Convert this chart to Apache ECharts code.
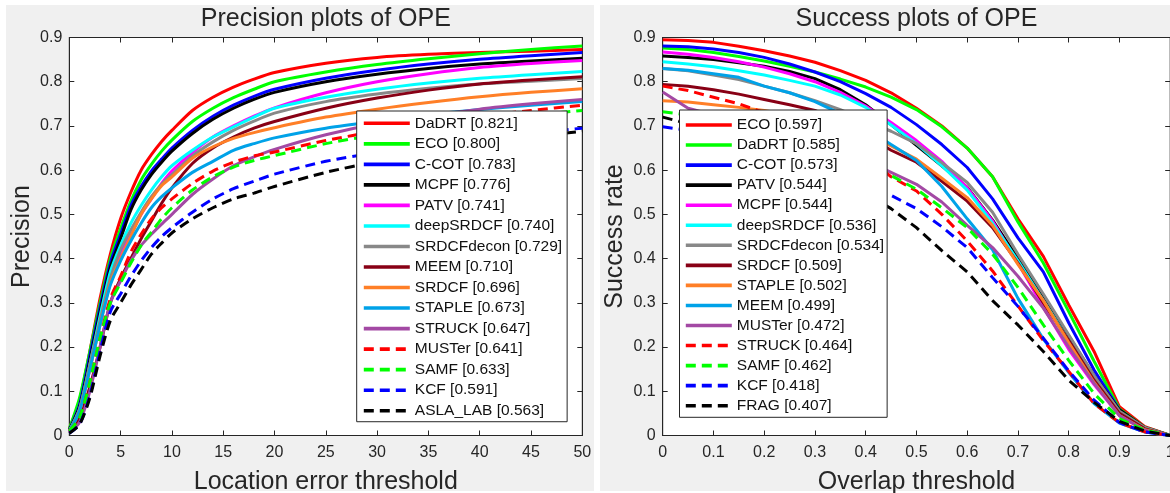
<!DOCTYPE html>
<html>
<head>
<meta charset="utf-8">
<title>Precision / Success plots of OPE</title>
<script src="https://cdn.jsdelivr.net/npm/echarts@6/dist/echarts.min.js"></script>
<style>
  html, body { margin: 0; padding: 0; background: #fff; }
  .panel { position: absolute; background: #f0f0f0; }
  #main { position: absolute; left: 0; top: 0; width: 1170px; height: 493px; }
</style>
</head>
<body>
<div class="panel" style="left:6px;top:5px;width:588px;height:486px"></div>
<div class="panel" style="left:600px;top:5px;width:570px;height:486px"></div>
<div id="main"></div>
<script>
// ---- precision plot (location error threshold 0..50) ----
const precX = [0, 1, 2, 3, 4, 5, 6, 7, 8, 9, 10, 12, 14, 16, 18, 20, 25, 30, 35, 40, 45, 50];
const precNames = ['DaDRT [0.821]', 'ECO [0.800]', 'C-COT [0.783]', 'MCPF [0.776]', 'PATV [0.741]',
  'deepSRDCF [0.740]', 'SRDCFdecon [0.729]', 'MEEM [0.710]', 'SRDCF [0.696]', 'STAPLE [0.673]',
  'STRUCK [0.647]', 'MUSTer [0.641]', 'SAMF [0.633]', 'KCF [0.591]', 'ASLA_LAB [0.563]'];
const pDaDRT = [0.015, 0.08, 0.19, 0.31, 0.41, 0.49, 0.55, 0.60, 0.635, 0.665, 0.69, 0.735, 0.765, 0.788, 0.806, 0.821, 0.842, 0.855, 0.862, 0.866, 0.869, 0.873];
const pECO = [0.015, 0.085, 0.19, 0.30, 0.40, 0.468, 0.53, 0.578, 0.613, 0.643, 0.668, 0.71, 0.74, 0.764, 0.783, 0.800, 0.822, 0.839, 0.852, 0.863, 0.873, 0.881];
const pCCOT = [0.012, 0.07, 0.18, 0.29, 0.39, 0.455, 0.52, 0.563, 0.598, 0.625, 0.65, 0.69, 0.722, 0.747, 0.767, 0.783, 0.808, 0.826, 0.84, 0.851, 0.859, 0.866];
const pMCPF = [0.012, 0.065, 0.17, 0.28, 0.38, 0.445, 0.51, 0.555, 0.59, 0.618, 0.643, 0.683, 0.715, 0.74, 0.76, 0.776, 0.80, 0.817, 0.83, 0.84, 0.847, 0.853];
const pPATV = [0.01, 0.055, 0.15, 0.26, 0.355, 0.41, 0.455, 0.50, 0.535, 0.57, 0.598, 0.64, 0.675, 0.70, 0.722, 0.741, 0.775, 0.80, 0.818, 0.832, 0.841, 0.848];
const pDeepSRDCF = [0.01, 0.06, 0.16, 0.27, 0.37, 0.43, 0.48, 0.52, 0.555, 0.585, 0.61, 0.645, 0.675, 0.698, 0.72, 0.74, 0.765, 0.783, 0.797, 0.808, 0.816, 0.823];
const pSRDCFdecon = [0.01, 0.06, 0.16, 0.26, 0.355, 0.42, 0.465, 0.505, 0.54, 0.568, 0.59, 0.632, 0.664, 0.69, 0.711, 0.729, 0.755, 0.772, 0.785, 0.795, 0.801, 0.807];
const pMEEM = [0.008, 0.04, 0.11, 0.20, 0.30, 0.355, 0.40, 0.445, 0.485, 0.525, 0.56, 0.615, 0.65, 0.675, 0.695, 0.71, 0.74, 0.763, 0.781, 0.795, 0.804, 0.811];
const pSRDCF = [0.01, 0.055, 0.15, 0.25, 0.345, 0.40, 0.45, 0.50, 0.535, 0.565, 0.585, 0.627, 0.653, 0.672, 0.685, 0.696, 0.72, 0.738, 0.753, 0.766, 0.776, 0.784];
const pSTAPLE = [0.01, 0.055, 0.15, 0.25, 0.34, 0.395, 0.44, 0.48, 0.515, 0.54, 0.56, 0.595, 0.62, 0.645, 0.66, 0.673, 0.695, 0.71, 0.725, 0.737, 0.747, 0.755];
const pSTRUCK = [0.008, 0.03, 0.10, 0.20, 0.30, 0.35, 0.395, 0.43, 0.455, 0.478, 0.50, 0.545, 0.58, 0.61, 0.63, 0.647, 0.68, 0.705, 0.722, 0.738, 0.75, 0.76];
const pMUSTer = [0.01, 0.04, 0.12, 0.22, 0.31, 0.36, 0.415, 0.455, 0.49, 0.515, 0.535, 0.57, 0.598, 0.618, 0.632, 0.641, 0.667, 0.688, 0.706, 0.722, 0.735, 0.747];
const pSAMF = [0.01, 0.04, 0.12, 0.22, 0.30, 0.345, 0.39, 0.43, 0.46, 0.49, 0.515, 0.555, 0.585, 0.607, 0.622, 0.633, 0.66, 0.68, 0.697, 0.712, 0.724, 0.735];
const pKCF = [0.005, 0.025, 0.09, 0.19, 0.28, 0.32, 0.36, 0.395, 0.425, 0.45, 0.47, 0.505, 0.535, 0.558, 0.575, 0.591, 0.62, 0.64, 0.658, 0.672, 0.684, 0.695];
const pASLA = [0.005, 0.025, 0.085, 0.18, 0.26, 0.30, 0.34, 0.375, 0.41, 0.435, 0.458, 0.49, 0.515, 0.535, 0.548, 0.563, 0.595, 0.62, 0.643, 0.66, 0.675, 0.688];
const precValues = [pDaDRT, pECO, pCCOT, pMCPF, pPATV, pDeepSRDCF, pSRDCFdecon, pMEEM, pSRDCF, pSTAPLE, pSTRUCK, pMUSTer, pSAMF, pKCF, pASLA];

// ---- success plot (overlap threshold 0..1) ----
const succX = [0, 0.05, 0.1, 0.15, 0.2, 0.25, 0.3, 0.35, 0.4, 0.45, 0.5, 0.55, 0.6, 0.65, 0.7, 0.75, 0.8, 0.85, 0.9, 0.95, 1];
const succNames = ['ECO [0.597]', 'DaDRT [0.585]', 'C-COT [0.573]', 'PATV [0.544]', 'MCPF [0.544]',
  'deepSRDCF [0.536]', 'SRDCFdecon [0.534]', 'SRDCF [0.509]', 'STAPLE [0.502]', 'MEEM [0.499]',
  'MUSTer [0.472]', 'STRUCK [0.464]', 'SAMF [0.462]', 'KCF [0.418]', 'FRAG [0.407]'];
const sECO = [0.895, 0.893, 0.889, 0.88, 0.87, 0.858, 0.844, 0.825, 0.803, 0.775, 0.74, 0.70, 0.65, 0.585, 0.49, 0.405, 0.295, 0.19, 0.065, 0.02, 0];
const sDaDRT = [0.876, 0.873, 0.866, 0.857, 0.847, 0.835, 0.822, 0.806, 0.788, 0.765, 0.737, 0.698, 0.65, 0.585, 0.483, 0.39, 0.28, 0.168, 0.06, 0.018, 0];
const sCCOT = [0.881, 0.879, 0.874, 0.866, 0.855, 0.84, 0.822, 0.80, 0.773, 0.742, 0.703, 0.658, 0.606, 0.535, 0.447, 0.37, 0.255, 0.148, 0.058, 0.017, 0];
const sPATV = [0.858, 0.855, 0.85, 0.843, 0.835, 0.823, 0.807, 0.782, 0.748, 0.703, 0.656, 0.61, 0.561, 0.487, 0.40, 0.31, 0.225, 0.135, 0.058, 0.018, 0];
const sMCPF = [0.867, 0.862, 0.855, 0.845, 0.833, 0.818, 0.80, 0.776, 0.745, 0.708, 0.667, 0.62, 0.56, 0.485, 0.39, 0.29, 0.195, 0.115, 0.045, 0.013, 0];
const sDeepSRDCF = [0.845, 0.84, 0.834, 0.825, 0.815, 0.803, 0.79, 0.77, 0.742, 0.702, 0.66, 0.61, 0.555, 0.48, 0.395, 0.305, 0.215, 0.125, 0.05, 0.015, 0];
const sSRDCFdecon = [0.83, 0.825, 0.815, 0.805, 0.79, 0.775, 0.757, 0.737, 0.712, 0.688, 0.66, 0.617, 0.572, 0.505, 0.41, 0.32, 0.228, 0.135, 0.055, 0.018, 0];
const sSRDCF = [0.794, 0.79, 0.782, 0.772, 0.76, 0.748, 0.735, 0.71, 0.68, 0.645, 0.618, 0.575, 0.53, 0.47, 0.39, 0.30, 0.215, 0.125, 0.05, 0.015, 0];
const sSTAPLE = [0.757, 0.754, 0.748, 0.742, 0.735, 0.725, 0.715, 0.70, 0.683, 0.655, 0.625, 0.582, 0.538, 0.475, 0.387, 0.305, 0.21, 0.12, 0.045, 0.013, 0];
const sMEEM = [0.83, 0.826, 0.818, 0.81, 0.79, 0.775, 0.755, 0.728, 0.695, 0.658, 0.622, 0.563, 0.49, 0.42, 0.31, 0.218, 0.143, 0.072, 0.028, 0.008, 0];
const sMUSTer = [0.777, 0.74, 0.725, 0.71, 0.695, 0.68, 0.665, 0.645, 0.622, 0.595, 0.568, 0.528, 0.475, 0.425, 0.36, 0.288, 0.20, 0.118, 0.045, 0.012, 0];
const sSTRUCK = [0.79, 0.78, 0.765, 0.75, 0.73, 0.71, 0.69, 0.665, 0.635, 0.585, 0.553, 0.50, 0.44, 0.372, 0.293, 0.215, 0.145, 0.072, 0.029, 0.008, 0];
const sSAMF = [0.732, 0.725, 0.715, 0.705, 0.692, 0.678, 0.662, 0.643, 0.62, 0.588, 0.557, 0.515, 0.47, 0.41, 0.335, 0.25, 0.17, 0.095, 0.038, 0.012, 0];
const sKCF = [0.698, 0.69, 0.672, 0.657, 0.64, 0.622, 0.603, 0.583, 0.563, 0.543, 0.513, 0.472, 0.425, 0.357, 0.292, 0.22, 0.146, 0.08, 0.029, 0.008, 0];
const sFRAG = [0.72, 0.705, 0.688, 0.67, 0.65, 0.628, 0.604, 0.578, 0.548, 0.513, 0.47, 0.418, 0.37, 0.305, 0.25, 0.19, 0.125, 0.075, 0.032, 0.01, 0];
const succValues = [sECO, sDaDRT, sCCOT, sPATV, sMCPF, sDeepSRDCF, sSRDCFdecon, sSRDCF, sSTAPLE, sMEEM, sMUSTer, sSTRUCK, sSAMF, sKCF, sFRAG];

// line styles by rank (same order in both plots)
const rankColors = ['#ff0000', '#00ff00', '#0000ff', '#000000', '#ff00ff', '#00ffff', '#888888',
  '#880015', '#ff7f27', '#00a2e8', '#a349a4', '#ff0000', '#00ff00', '#0000ff', '#000000'];
const rankDashed = [false, false, false, false, false, false, false, false, false, false, false, true, true, true, true];

const FONT = '"Liberation Sans", Arial, Helvetica, sans-serif';
const AXIS_COLOR = '#262626';

function buildSeries(names, values, xs, axisIdx, smooth) {
  return names.map((name, i) => ({
    name: name,
    type: 'line',
    xAxisIndex: axisIdx,
    yAxisIndex: axisIdx,
    data: xs.map((x, j) => [x, values[i][j]]),
    symbol: 'none',
    smooth: smooth,
    silent: true,
    animation: false,
    lineStyle: {
      color: rankColors[i],
      width: 3,
      type: rankDashed[i] ? [10, 6] : 'solid'
    },
    itemStyle: { color: rankColors[i] }
  }));
}

function fmtTick(v) {
  if (v === 0) return '0';
  if (Math.abs(v - 1) < 1e-9) return '1';
  return v.toFixed(1);
}

function mainX(grid, max, interval, fmt) {
  return {
    gridIndex: grid, type: 'value', min: 0, max: max, interval: interval, position: 'bottom',
    axisLine: { show: true, onZero: false, lineStyle: { color: AXIS_COLOR, width: 1 } },
    axisTick: { show: true, inside: true, length: 5, lineStyle: { color: AXIS_COLOR } },
    axisLabel: { fontSize: 16, color: AXIS_COLOR, fontFamily: FONT, margin: 9, formatter: fmt },
    splitLine: { show: false }
  };
}
function topX(grid, max, interval) {
  return {
    gridIndex: grid, type: 'value', min: 0, max: max, interval: interval, position: 'top',
    axisLine: { show: true, onZero: false, lineStyle: { color: AXIS_COLOR, width: 1 } },
    axisTick: { show: true, inside: true, length: 5, lineStyle: { color: AXIS_COLOR } },
    axisLabel: { show: false }, splitLine: { show: false }
  };
}
function mainY(grid) {
  return {
    gridIndex: grid, type: 'value', min: 0, max: 0.9, interval: 0.1, position: 'left',
    axisLine: { show: true, onZero: false, lineStyle: { color: AXIS_COLOR, width: 1 } },
    axisTick: { show: true, inside: true, length: 5, lineStyle: { color: AXIS_COLOR } },
    axisLabel: { fontSize: 16, color: AXIS_COLOR, fontFamily: FONT, margin: 7, formatter: fmtTick },
    splitLine: { show: false }
  };
}
function rightY(grid) {
  return {
    gridIndex: grid, type: 'value', min: 0, max: 0.9, interval: 0.1, position: 'right',
    axisLine: { show: true, onZero: false, lineStyle: { color: AXIS_COLOR, width: 1 } },
    axisTick: { show: true, inside: true, length: 5, lineStyle: { color: AXIS_COLOR } },
    axisLabel: { show: false }, splitLine: { show: false }
  };
}

function legendOpt(names, left, top, gap, pad) {
  return {
    data: names,
    orient: 'vertical',
    left: left,
    top: top,
    padding: pad,
    itemWidth: 46,
    itemHeight: 14,
    itemGap: gap,
    selectedMode: false,
    backgroundColor: '#fff',
    borderColor: AXIS_COLOR,
    borderWidth: 1,
    borderRadius: 0,
    itemStyle: { opacity: 0 },
    lineStyle: { width: 3.6 },
    textStyle: { fontSize: 15.5, lineHeight: 18, color: '#111', fontFamily: FONT }
  };
}

function label(text, x, y, size, rot) {
  return {
    type: 'text', x: x, y: y, rotation: rot || 0, z: 5, silent: true,
    style: { text: text, font: size + 'px ' + FONT, fill: AXIS_COLOR,
      textAlign: 'center', textVerticalAlign: 'middle' }
  };
}

const chart = echarts.init(document.getElementById('main'));

const option = {
  animation: false,
  backgroundColor: 'transparent',
  grid: [
    { left: 69.3, top: 37.5, width: 513, height: 398, show: true, backgroundColor: '#fff',
      borderColor: AXIS_COLOR, borderWidth: 1, containLabel: false, outerBoundsMode: 'none' },
    { left: 662.7, top: 37.5, width: 507.5, height: 398, show: true, backgroundColor: '#fff',
      borderColor: AXIS_COLOR, borderWidth: 1, containLabel: false, outerBoundsMode: 'none' }
  ],
  xAxis: [
    mainX(0, 50, 5, v => String(v)),
    mainX(1, 1, 0.1, fmtTick),
    topX(0, 50, 5),
    topX(1, 1, 0.1)
  ],
  yAxis: [mainY(0), mainY(1), rightY(0), rightY(1)],
  legend: [
    legendOpt(precNames, 356.7, 111, 2.53, [3.3, 5, 2, 5.3]),
    legendOpt(succNames, 679.5, 110, 2.05, [6, 3, 2.6, 4.5])
  ],
  graphic: [
    label('Precision plots of OPE', 325.8, 19.5, 25),
    label('Success plots of OPE', 916.5, 19.5, 25),
    label('Location error threshold', 325.8, 482, 25),
    label('Overlap threshold', 916.5, 482, 25),
    label('Precision', 22, 236.5, 25, Math.PI / 2),
    label('Success rate', 615.5, 236.5, 25, Math.PI / 2)
  ],
  series: buildSeries(precNames, precValues, precX, 0, 0.25)
    .concat(buildSeries(succNames, succValues, succX, 1, false))
};

chart.setOption(option);
</script>
</body>
</html>
